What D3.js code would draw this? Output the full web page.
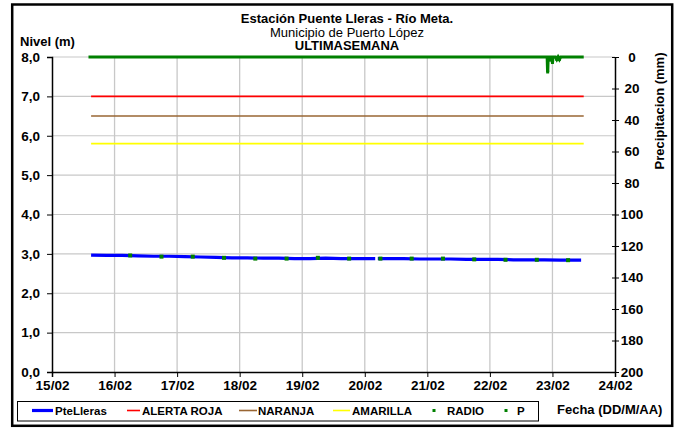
<!DOCTYPE html>
<html><head><meta charset="utf-8">
<script src="https://cdn.jsdelivr.net/npm/d3@7"></script>
<style>
html,body{margin:0;padding:0;background:#fff;}
svg text{font-family:"Liberation Sans",Arial,sans-serif;}
</style></head>
<body><svg id="c" width="679" height="428"></svg>
<script>
// ---- data ----
const levelTimes = ["15/02 15:00","15/02 21:00","16/02 03:00","16/02 09:00","16/02 15:00","16/02 21:00",
 "17/02 03:00","17/02 09:00","17/02 15:00","17/02 21:00","18/02 03:00","18/02 09:00","18/02 15:00","18/02 21:00",
 "19/02 03:00","19/02 09:00","19/02 15:00","19/02 21:00","20/02 03:00","20/02 04:00","20/02 04:30","20/02 05:00",
 "20/02 09:00","20/02 15:00","20/02 21:00","21/02 03:00","21/02 09:00","21/02 15:00","21/02 21:00",
 "22/02 03:00","22/02 09:00","22/02 15:00","22/02 21:00","23/02 03:00","23/02 09:00","23/02 11:00"];
const levelValues = [2.97,2.96,2.96,2.95,2.94,2.94,2.93,2.92,2.91,2.90,2.90,2.89,2.89,2.88,
 2.88,2.89,2.88,2.88,2.88,2.88,null,2.88,2.88,2.88,2.87,2.87,2.87,2.86,2.86,2.86,2.85,2.85,2.85,2.84,2.84,2.84];
const radioTimes = ["16/02 06:00","16/02 18:00","17/02 06:00","17/02 18:00","18/02 06:00","18/02 18:00",
 "19/02 06:00","19/02 18:00","20/02 06:00","20/02 18:00","21/02 06:00","21/02 18:00","22/02 06:00","22/02 18:00","23/02 06:00"];
const radioValues = [2.96,2.93,2.93,2.90,2.88,2.88,2.90,2.88,2.88,2.88,2.88,2.86,2.85,2.85,2.84];
const pTimes = ["15/02 14:00","22/02 22:00","22/02 22:10","22/02 22:20","22/02 22:50","22/02 23:00","22/02 23:10",
 "22/02 23:50","23/02 00:00","23/02 00:10","23/02 01:10","23/02 01:40","23/02 02:10","23/02 02:40","23/02 03:10","23/02 12:00"];
const pValues = [0,0,9.5,0,0,2,0,0,3.5,0,0,1.5,0,1.5,0,0];
const thresholdNames = ["ALERTA ROJA","NARANJA","AMARILLA"];
const thresholdValues = [7.0,6.5,5.8];
const thresholdStart = "15/02 15:00", thresholdEnd = "23/02 12:00";
const xTickLabels = ["15/02","16/02","17/02","18/02","19/02","20/02","21/02","22/02","23/02","24/02"];
const yTickValues = [0,1,2,3,4,5,6,7,8];
const y2TickValues = [0,20,40,60,80,100,120,140,160,180,200];

// ---- setup ----
const parse = s => d3.utcParse("%d/%m/%Y %H:%M")(s.replace(" ", "/2011 "));
const svg = d3.select("#c");
const L = 52, R = 615, T = 57, B = 372;
const x = d3.scaleUtc().domain([parse("15/02 00:00"), parse("24/02 00:00")]).range([L, R]);
const y = d3.scaleLinear().domain([0, 8]).range([B, T]);
const y2 = d3.scaleLinear().domain([0, 200]).range([T, B]);
const colors = {blue:"#0000FF", red:"#FF0000", brown:"#996633", yellow:"#FFFF00", green:"#008000"};
const thrColors = [colors.red, colors.brown, colors.yellow];

svg.append("rect").attr("x",0).attr("y",0).attr("width",679).attr("height",428).attr("fill","#fff");
svg.append("rect").attr("x",12.2).attr("y",4.5).attr("width",660).attr("height",421.3)
  .attr("fill","none").attr("stroke","#000").attr("stroke-width",2.5);

// gridlines
const days = xTickLabels.map(l => parse(l + " 00:00"));
svg.append("g").selectAll("line").data(days.slice(1, -1)).join("line")
  .attr("x1", d => x(d)).attr("x2", d => x(d)).attr("y1", T).attr("y2", B)
  .attr("stroke", "#C8C8C8").attr("stroke-width", 1.3);
svg.append("g").selectAll("line").data(yTickValues.slice(1)).join("line")
  .attr("x1", L).attr("x2", R).attr("y1", d => y(d)).attr("y2", d => y(d))
  .attr("stroke", "#C8C8C8").attr("stroke-width", 1.2);

// axes
const fontTick = "bold 13.5px 'Liberation Sans', Arial, sans-serif";
const gx = svg.append("g").attr("transform", `translate(0,${B})`)
  .call(d3.axisBottom(x).tickValues(days).tickFormat((d,i) => xTickLabels[i]).tickSize(5).tickPadding(3));
gx.select(".domain").attr("stroke-width", 1.5);
gx.selectAll("text").style("font", fontTick).attr("fill", "#000").attr("dy", "0.75em");
const gy = svg.append("g").attr("transform", `translate(${L},0)`)
  .call(d3.axisLeft(y).tickValues(yTickValues).tickFormat(d => d3.format(".1f")(d).replace(".", ",")).tickSize(5).tickPadding(7));
gy.select(".domain").attr("stroke-width", 1.5);
gy.selectAll("text").style("font", fontTick).attr("fill", "#000");
const gy2 = svg.append("g").attr("transform", `translate(${R},0)`)
  .call(d3.axisRight(y2).tickValues(y2TickValues).tickSize(0));
gy2.select(".domain").attr("stroke-width", 1.5);
gy2.selectAll(".tick line").attr("x1", -3).attr("x2", 4);
gy2.selectAll("text").style("font", fontTick).attr("fill", "#000").attr("x", 17).attr("text-anchor", "middle");

// thresholds
svg.append("g").selectAll("line").data(thresholdValues).join("line")
  .attr("x1", x(parse(thresholdStart))).attr("x2", x(parse(thresholdEnd)))
  .attr("y1", d => y(d)).attr("y2", d => y(d))
  .attr("stroke", (d,i) => thrColors[i]).attr("stroke-width", 1.6);

// level line
const lev = levelTimes.map((t,i) => ({t: parse(t), v: levelValues[i]}));
svg.append("path").datum(lev)
  .attr("d", d3.line().defined(d => d.v !== null).x(d => x(d.t)).y(d => y(d.v)))
  .attr("fill", "none").attr("stroke", colors.blue).attr("stroke-width", 3.2);

// radio points
svg.append("g").selectAll("rect").data(radioTimes.map((t,i) => ({t: parse(t), v: radioValues[i]}))).join("rect")
  .attr("x", d => x(d.t) - 2).attr("y", d => y(d.v) - 2).attr("width", 4).attr("height", 4)
  .attr("fill", colors.green);

// precipitation
const pd = pTimes.map((t,i) => ({t: parse(t), v: pValues[i]}));
svg.append("path").datum(pd)
  .attr("d", d3.line().x(d => x(d.t)).y(d => y2(d.v)))
  .attr("fill", "none").attr("stroke", colors.green).attr("stroke-width", 3.2).attr("stroke-linejoin", "miter");
svg.append("g").selectAll("rect").data(pd.filter(d => d.v > 0)).join("rect")
  .attr("x", d => x(d.t) - 1.5).attr("y", d => y2(d.v) - 1.5).attr("width", 3).attr("height", 3)
  .attr("fill", colors.green);

// titles
const tf = "'Liberation Sans', Arial, sans-serif";
svg.append("text").attr("x", 347).attr("y", 22.5).attr("text-anchor", "middle")
  .style("font", `bold 13px ${tf}`).text("Estación Puente Lleras - Río Meta.");
svg.append("text").attr("x", 347).attr("y", 36.5).attr("text-anchor", "middle")
  .style("font", `13px ${tf}`).text("Municipio de Puerto López");
svg.append("text").attr("x", 347).attr("y", 50).attr("text-anchor", "middle")
  .style("font", `bold 13px ${tf}`).text("ULTIMASEMANA");
svg.append("text").attr("x", 20).attr("y", 46).style("font", `bold 13px ${tf}`).text("Nivel (m)");
svg.append("text").attr("transform", "translate(664,111) rotate(-90)").attr("text-anchor", "middle")
  .style("font", `bold 13px ${tf}`).text("Precipitacion (mm)");
svg.append("text").attr("x", 557).attr("y", 414).style("font", `bold 13px ${tf}`).text("Fecha (DD/M/AA)");

// legend
const lg = svg.append("g");
lg.append("rect").attr("x", 17.5).attr("y", 401.5).attr("width", 521).attr("height", 19.5)
  .attr("fill", "#fff").attr("stroke", "#000").attr("stroke-width", 1);
const legendItems = [
  {name:"PteLleras", color:colors.blue, type:"line", x0:32, x1:53, tx:55, w:3.2},
  {name:thresholdNames[0], color:thrColors[0], type:"line", x0:127, x1:140, tx:142, w:1.6},
  {name:thresholdNames[1], color:thrColors[1], type:"line", x0:239, x1:257, tx:258, w:1.6},
  {name:thresholdNames[2], color:thrColors[2], type:"line", x0:333, x1:350, tx:352, w:1.6},
  {name:"RADIO", color:colors.green, type:"dot", x0:434, tx:447},
  {name:"P", color:colors.green, type:"dot", x0:506, tx:517}
];
legendItems.forEach(it => {
  if (it.type === "line") lg.append("line").attr("x1", it.x0).attr("x2", it.x1).attr("y1", 410.5).attr("y2", 410.5)
      .attr("stroke", it.color).attr("stroke-width", it.w);
  else lg.append("rect").attr("x", it.x0 - 1.5).attr("y", 409).attr("width", 3).attr("height", 3).attr("fill", it.color);
  lg.append("text").attr("x", it.tx).attr("y", 415).style("font", `bold 11.5px ${tf}`).text(it.name);
});
</script></body></html>
